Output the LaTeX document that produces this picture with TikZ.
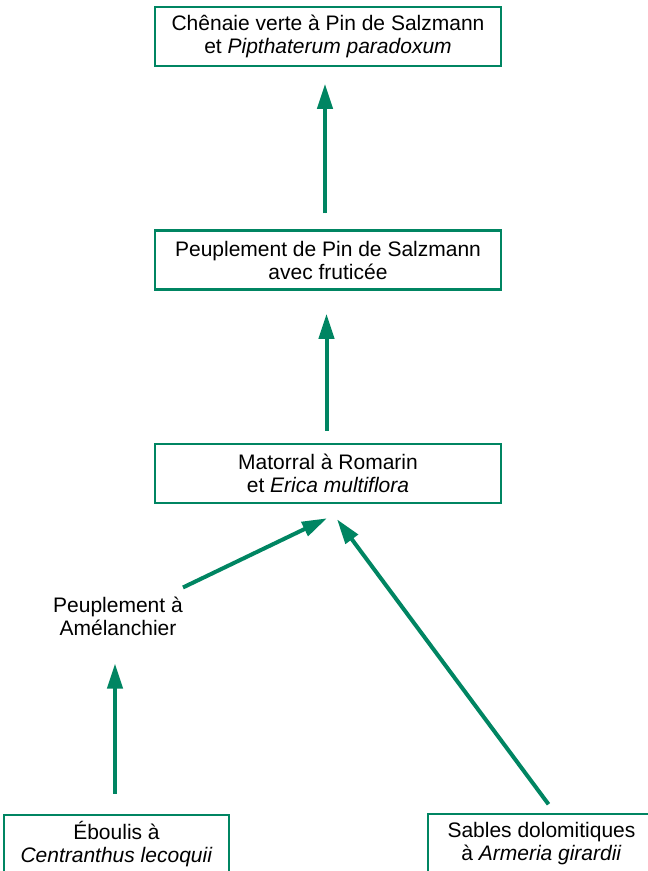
\documentclass[tikz,border=0pt]{standalone}
\usepackage{fontspec}
\setmainfont{Liberation Sans}
\usepackage{tikz}
\usetikzlibrary{arrows.meta,positioning}
\usepackage{xcolor}
\definecolor{vert}{RGB}{0,133,98}

\begin{document}
\begin{tikzpicture}[x=1pt,y=1pt,node distance=150pt,>={Triangle[length=25pt,width=15pt]}, every node/.style={font=\fontsize{21}{23}\selectfont}]
\tikzstyle{box}=[draw=vert, line width=2.5pt, align=center, minimum width=346pt, minimum height=59pt, inner sep=0pt]
\tikzstyle{plain}=[align=center, inner sep=0pt]
\tikzstyle{arr}=[->, draw=vert, fill=vert, line width=4pt]
\useasboundingbox (0,0) rectangle (648,-871);
\node[box] (chene) at (328,-36.5) {Chênaie verte à Pin de Salzmann\\et \textit{Pipthaterum paradoxum}};
\node[box,below=162pt of chene] (peup) {Peuplement de Pin de Salzmann\\avec fruticée};
\node[box,below=152pt of peup] (mato) {Matorral à Romarin\\et \textit{Erica multiflora}};
\node[plain] (amel) at (118,-616) {Peuplement à\\Amélanchier};
\node[box,minimum width=225pt] (ebou) at (116.5,-844.5) {Éboulis à\\\textit{Centranthus lecoquii}};
\node[box,minimum width=227pt] (sabl) at (541.5,-843.5) {Sables dolomitiques\\à \textit{Armeria girardii}};
\draw[arr,shorten <=16pt,shorten >=16.5pt] ([xshift=-3pt]peup.north)--([xshift=-3pt]chene.south);
\draw[arr,shorten <=12pt,shorten >=23pt] ([xshift=-1.5pt]mato.north)--([xshift=-1.5pt]peup.south);
\draw[arr,shorten <=20pt,shorten >=28pt] ([xshift=-1.5pt]ebou.north)--([xshift=-3pt]amel.south);
\draw[arr] ([yshift=9pt]amel.north east)--([xshift=-1pt,yshift=-14pt]mato.south);
\draw[arr] ([xshift=7pt,yshift=8.5pt]sabl.north)--([xshift=9pt,yshift=-15pt]mato.south);
\end{tikzpicture}
\end{document}
